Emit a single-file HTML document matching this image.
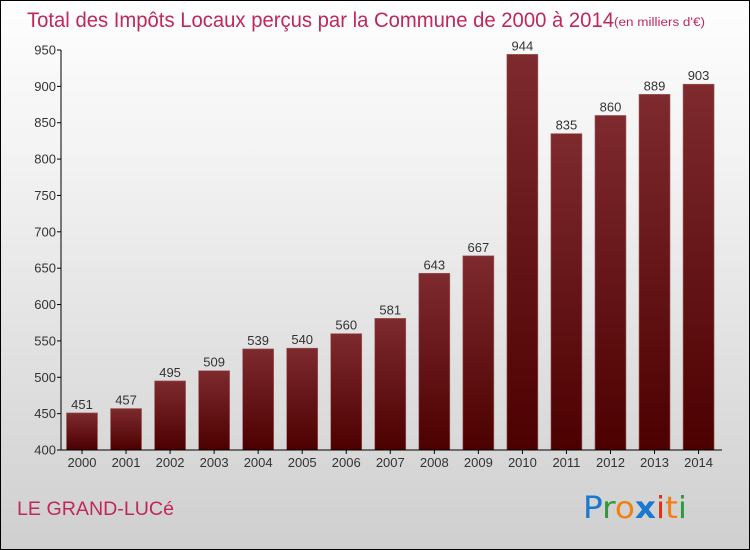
<!DOCTYPE html>
<html><head><meta charset="utf-8"><style>
body{margin:0}
#c{position:relative;width:748px;height:548px;border:1px solid #000;background:linear-gradient(#fefefe,#f2f2f2 30%,#cfcfcf);font-family:"Liberation Sans",sans-serif;overflow:hidden}
</style></head><body>
<div id="c">
<svg width="748" height="548">
<defs><linearGradient id="g" x1="0" y1="0" x2="0" y2="1"><stop offset="0" stop-color="#7e2a2e"/><stop offset="1" stop-color="#4c0000"/></linearGradient></defs>
<text x="26" y="26" font-size="21" fill="#c0285a" textLength="587" lengthAdjust="spacingAndGlyphs">Total des Impôts Locaux perçus par la Commune de 2000 à 2014</text>
<text x="613" y="25" font-size="11.5" fill="#c0285a" textLength="91" lengthAdjust="spacingAndGlyphs">(en milliers d'€)</text>
<g id="plot"></g>
<text x="16" y="514" font-size="19" fill="#c0285a" textLength="157" lengthAdjust="spacingAndGlyphs">LE GRAND-LUCé</text>
<g font-size="30" font-family="DejaVu Sans,sans-serif">
<text x="582" y="517" textLength="104" lengthAdjust="spacingAndGlyphs"><tspan fill="#1a78d0">P</tspan><tspan fill="#2e9a3a">r</tspan><tspan fill="#f08010">o</tspan><tspan fill="#1a78d0" font-weight="bold">x</tspan><tspan fill="#e03010">i</tspan><tspan fill="#f08010">t</tspan><tspan fill="#2e9a3a">i</tspan></text></g>
</svg></div>
<script>
const years=["2000","2001","2002","2003","2004","2005","2006","2007","2008","2009","2010","2011","2012","2013","2014"];
const values=[451,457,495,509,539,540,560,581,643,667,944,835,860,889,903];
const yTicks=[400,450,500,550,600,650,700,750,800,850,900,950];
const ns="http://www.w3.org/2000/svg",g=document.getElementById('plot');
const y=v=>449-(v-400)*400/550, x=i=>81+i*44.04;
function el(t,a,p){const e=document.createElementNS(ns,t);for(const k in a)e.setAttribute(k,a[k]);(p||g).appendChild(e);return e}
yTicks.forEach(t=>{const l=el('line',{x1:56,x2:60,y1:y(t),y2:y(t),stroke:'#000'});


const tx=el('text',{x:55,y:y(t)+4.5,'text-anchor':'end','font-size':13,fill:'#333'});tx.textContent=t;

});
years.forEach((yr,i)=>{const v=values[i];
const r=el('rect',{x:x(i)-15.5,y:y(v),width:31,height:449-y(v),fill:'url(#g)',stroke:'#a06060','stroke-width':0.6});


const vl=el('text',{x:x(i),y:y(v)-4,'text-anchor':'middle','font-size':13,fill:'#333'});vl.textContent=v;


const tk=el('line',{x1:x(i),x2:x(i),y1:449,y2:453,stroke:'#000'});


const xl=el('text',{x:x(i),y:466,'text-anchor':'middle','font-size':13,fill:'#333'});xl.textContent=yr;

});
const ya=el('line',{x1:60,x2:60,y1:y(950),y2:449,stroke:'#000'});


const xa=el('line',{x1:60,x2:721,y1:449,y2:449,stroke:'#000'});


</script></body></html>
